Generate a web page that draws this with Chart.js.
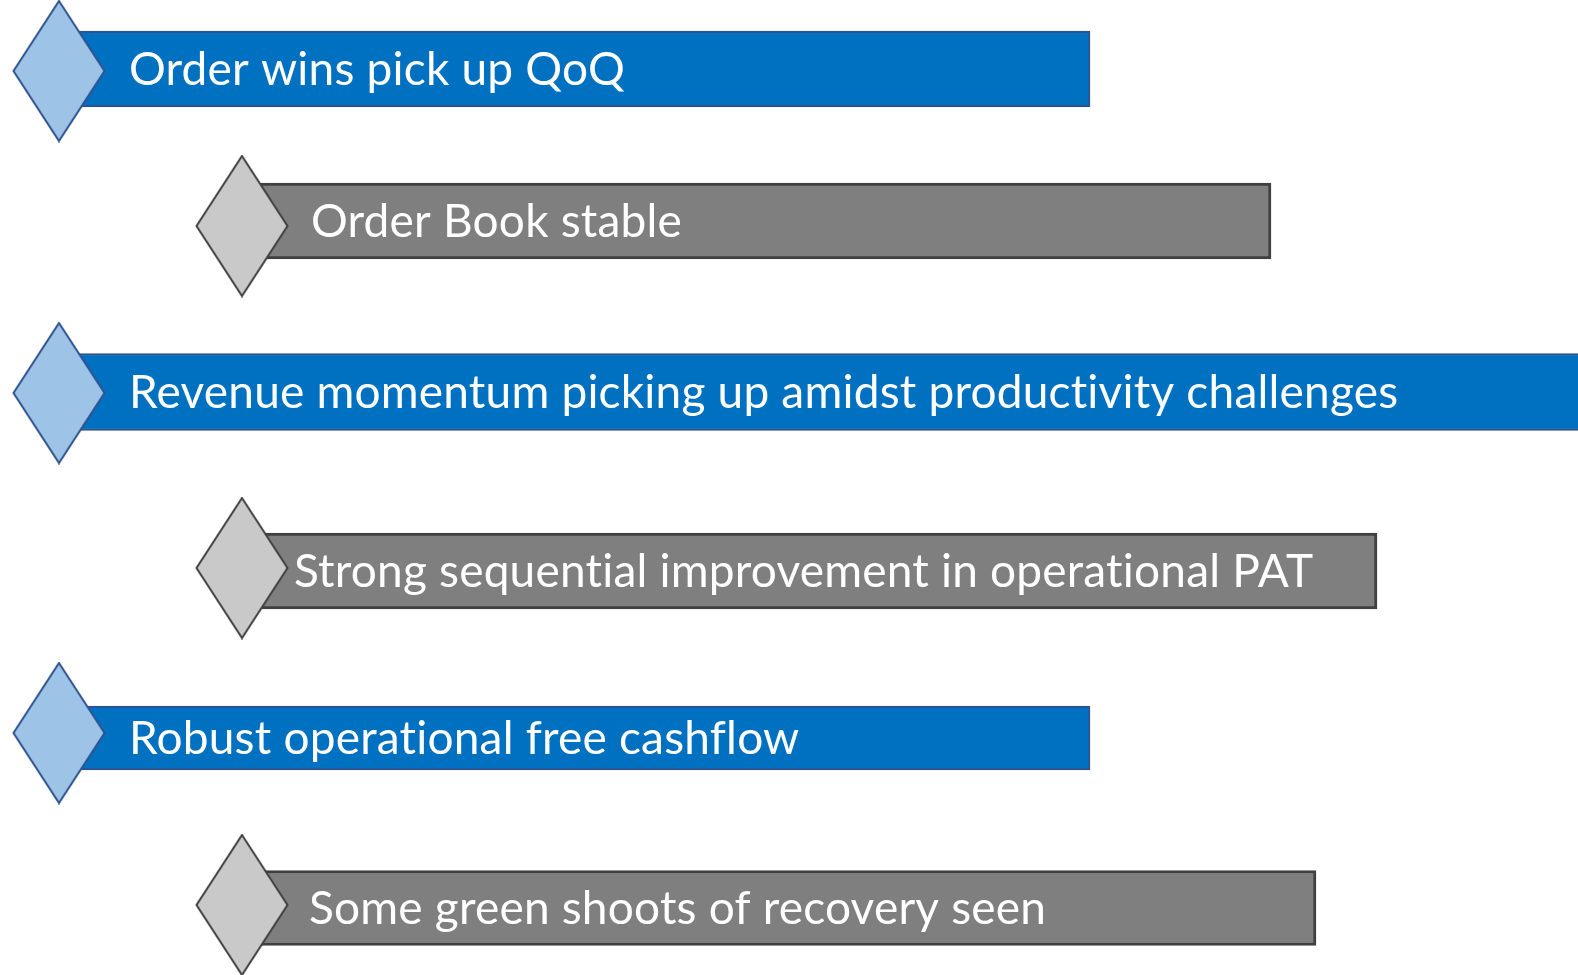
<!DOCTYPE html>
<html>
<head>
<meta charset="utf-8">
<script src="https://cdn.jsdelivr.net/npm/chart.js@4"></script>
<style>
  html, body { margin: 0; padding: 0; background: #ffffff; }
  #wrap { width: 1578px; height: 975px; position: relative; }
</style>
</head>
<body>
<div id="wrap"><canvas id="c"></canvas></div>
<script>
// ---- data ----
const labels = [
  "Order wins pick up QoQ",
  "Order Book stable",
  "Revenue momentum picking up amidst productivity challenges",
  "Strong sequential improvement in operational PAT",
  "Robust operational free cashflow",
  "Some green shoots of recovery seen"
];
const rowLevel   = [0, 1, 0, 1, 0, 1];            // 0 = blue (main), 1 = grey (sub)
const rowCenter  = [69, 221, 392, 571, 738, 908];  // vertical position of each bar
const barStart   = [78, 260, 78, 260, 78, 260];
const barEnd     = [1090, 1271, 1600, 1377, 1090, 1316];
const markerX    = [59, 242, 59, 242, 59, 242];
const markerY    = [71, 226, 393, 568, 733, 905];
const textStart  = [129, 311, 129, 294, 129, 309];
const barHeight  = [76, 76, 77, 76, 64, 75];

// ---- styles ----
const STYLE = [
  { fill: '#0070C0', border: '#2F528F', bw: 2, dFill: '#9DC3E6', dStroke: '#2F528F' },
  { fill: '#7F7F7F', border: '#404040', bw: 3, dFill: '#C9C9C9', dStroke: '#404040' }
];

function diamond(fill, stroke) {
  const w = 94, h = 143;
  const c = document.createElement('canvas');
  c.width = w; c.height = h;
  const g = c.getContext('2d');
  g.beginPath();
  g.moveTo(w / 2, 1.5);
  g.lineTo(w - 1.5, h / 2);
  g.lineTo(w / 2, h - 1.5);
  g.lineTo(1.5, h / 2);
  g.closePath();
  g.fillStyle = fill; g.fill();
  g.lineWidth = 2; g.strokeStyle = stroke; g.stroke();
  return c;
}
const diamonds = STYLE.map(s => diamond(s.dFill, s.dStroke));

const datasets = [];
labels.forEach((lab, i) => {
  const s = STYLE[rowLevel[i]];
  datasets.push({
    type: 'bar',
    label: lab,
    indexAxis: 'y',
    data: [{ y: rowCenter[i], x: [barStart[i], barEnd[i]] }],
    backgroundColor: s.fill,
    borderColor: s.border,
    borderWidth: s.bw,
    borderSkipped: false,
    barThickness: barHeight[i],
    grouped: false,
    order: 2
  });
});
labels.forEach((lab, i) => {
  datasets.push({
    type: 'scatter',
    label: 'marker ' + (i + 1),
    data: [{ x: markerX[i], y: markerY[i] }],
    pointStyle: diamonds[rowLevel[i]],
    pointRadius: 10,
    showLine: false,
    clip: false,
    order: 1
  });
});

const textPlugin = {
  id: 'rowText',
  afterDraw(chart) {
    const ctx = chart.ctx;
    const xs = chart.scales.x, ys = chart.scales.y;
    ctx.save();
    ctx.fillStyle = '#ffffff';
    ctx.font = '46px Lato';
    try { ctx.letterSpacing = '0.2px'; } catch (e) {}
    ctx.textBaseline = 'alphabetic';
    ctx.textAlign = 'left';
    labels.forEach((lab, i) => {
      const x = xs.getPixelForValue(textStart[i]);
      const y = ys.getPixelForValue(rowCenter[i]) + 16;
      ctx.fillText(lab, x, y);
    });
    ctx.restore();
  }
};

new Chart(document.getElementById('c'), {
  type: 'bar',
  data: { datasets },
  options: {
    responsive: true,
    maintainAspectRatio: false,
    animation: false,
    events: [],
    layout: { padding: 0, autoPadding: false },
    plugins: { legend: { display: false }, tooltip: { enabled: false } },
    scales: {
      x: { type: 'linear', min: 0, max: 1578, display: false, offset: false, grace: 0 },
      y: { type: 'linear', min: 0, max: 975, reverse: true, display: false, offset: false, grace: 0 }
    }
  },
  plugins: [textPlugin]
});
</script>
</body>
</html>
